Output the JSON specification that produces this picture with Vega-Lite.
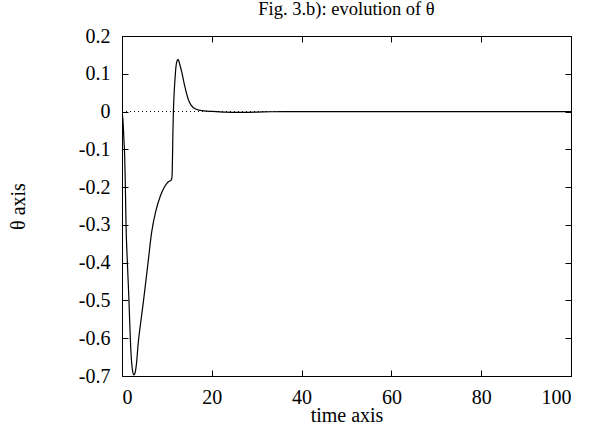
{
  "$schema": "https://vega.github.io/schema/vega-lite/v6.json",
  "autosize": "none",
  "width": 449,
  "height": 340,
  "padding": {"left": 122, "top": 36, "right": 18, "bottom": 56},
  "background": "white",
  "config": {
    "font": "Liberation Serif",
    "view": {"stroke": "black", "strokeWidth": 1},
    "axis": {
      "grid": false,
      "domain": false,
      "tickColor": "black",
      "tickSize": -6,
      "tickWidth": 1,
      "labelFont": "Liberation Serif",
      "labelFontSize": 20,
      "labelColor": "black",
      "titleFont": "Liberation Serif",
      "titleFontSize": 20,
      "titleFontWeight": "normal",
      "titleColor": "black"
    }
  },
  "title": {
    "text": "Fig. 3.b): evolution of θ",
    "font": "Liberation Serif",
    "fontSize": 18.5,
    "fontWeight": "normal",
    "color": "black",
    "anchor": "middle",
    "offset": 7.5
  },
  "layer": [
    {
      "data": {"values": [{"x1": 0, "x2": 100, "y": 0}]},
      "mark": {"type": "rule", "stroke": "black", "strokeWidth": 1, "strokeDash": [1, 3]},
      "encoding": {
        "x": {"field": "x1", "type": "quantitative", "scale": {"domain": [0, 100]},
          "axis": {"orient": "top", "labels": false, "title": null, "values": [0, 20, 40, 60, 80, 100]}},
        "x2": {"field": "x2"},
        "y": {"field": "y", "type": "quantitative", "scale": {"domain": [-0.7, 0.2]},
          "axis": {"orient": "right", "labels": false, "title": null, "values": [-0.7, -0.6, -0.5, -0.4, -0.3, -0.2, -0.1, 0, 0.1, 0.2]}}
      }
    },
    {
      "data": {"values": [
        {"t": 0, "v": 0},
        {"t": 0.25, "v": -0.03},
        {"t": 0.45, "v": -0.08},
        {"t": 0.6, "v": -0.12},
        {"t": 0.75, "v": -0.2},
        {"t": 0.9, "v": -0.3},
        {"t": 1.2, "v": -0.4},
        {"t": 1.55, "v": -0.5},
        {"t": 1.85, "v": -0.6},
        {"t": 2.15, "v": -0.665},
        {"t": 2.4, "v": -0.69},
        {"t": 2.65, "v": -0.697},
        {"t": 2.9, "v": -0.692},
        {"t": 3.2, "v": -0.67},
        {"t": 3.6, "v": -0.615},
        {"t": 4.2, "v": -0.555},
        {"t": 4.8, "v": -0.5},
        {"t": 5.8, "v": -0.4},
        {"t": 6.6, "v": -0.32},
        {"t": 7.5, "v": -0.265},
        {"t": 8.5, "v": -0.225},
        {"t": 9.3, "v": -0.203},
        {"t": 10.0, "v": -0.19},
        {"t": 10.6, "v": -0.184},
        {"t": 11.0, "v": -0.181},
        {"t": 11.15, "v": -0.17},
        {"t": 11.25, "v": -0.12},
        {"t": 11.35, "v": -0.05},
        {"t": 11.45, "v": 0.0},
        {"t": 11.6, "v": 0.045},
        {"t": 11.8, "v": 0.085},
        {"t": 12.0, "v": 0.117},
        {"t": 12.25, "v": 0.134},
        {"t": 12.5, "v": 0.138},
        {"t": 12.8, "v": 0.128},
        {"t": 13.3, "v": 0.105},
        {"t": 14.0, "v": 0.066},
        {"t": 14.8, "v": 0.031},
        {"t": 15.9, "v": 0.01},
        {"t": 17.4, "v": 0.003},
        {"t": 19, "v": 0.001},
        {"t": 21, "v": 0},
        {"t": 23, "v": -0.0015},
        {"t": 26, "v": -0.002},
        {"t": 30, "v": -0.0015},
        {"t": 33, "v": -0.0005},
        {"t": 36, "v": 0},
        {"t": 100, "v": 0}
      ]},
      "mark": {"type": "line", "stroke": "black", "strokeWidth": 1.2, "interpolate": "monotone", "clip": true},
      "encoding": {
        "x": {"field": "t", "type": "quantitative", "scale": {"domain": [0, 100]},
          "axis": {"orient": "bottom", "title": "time axis", "values": [0, 20, 40, 60, 80, 100], "labelPadding": 17, "titlePadding": -2}},
        "y": {"field": "v", "type": "quantitative", "scale": {"domain": [-0.7, 0.2]},
          "axis": {"orient": "left", "title": "θ  axis", "values": [-0.7, -0.6, -0.5, -0.4, -0.3, -0.2, -0.1, 0, 0.1, 0.2],
            "labelPadding": 18, "titlePadding": 50,
            "labelExpr": "datum.value == 0 ? '0' : replace(format(datum.value, '.1f'), '\u2212', '-')"}}
      }
    }
  ],
  "resolve": {"axis": {"x": "independent", "y": "independent"}}
}
